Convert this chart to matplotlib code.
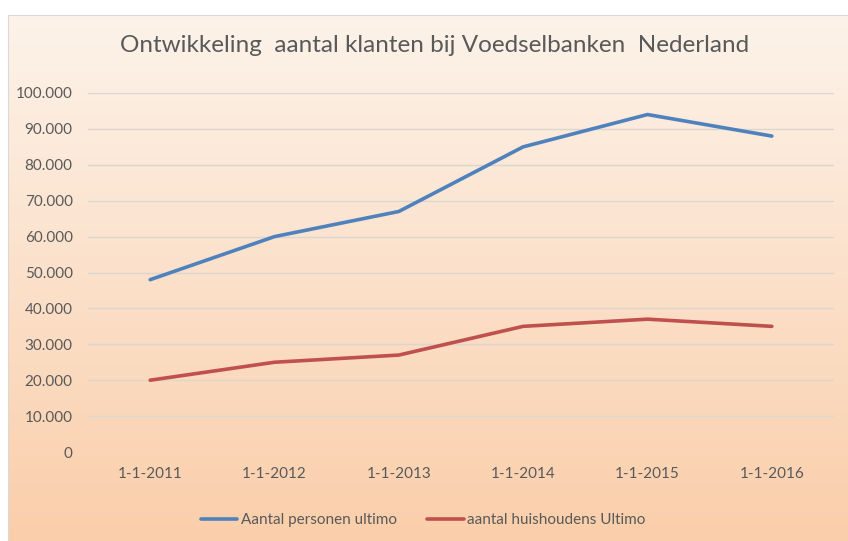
import numpy as np
import matplotlib
matplotlib.use("Agg")
import matplotlib.pyplot as plt
from matplotlib.ticker import FuncFormatter

categories = ["1-1-2011", "1-1-2012", "1-1-2013", "1-1-2014", "1-1-2015", "1-1-2016"]
personen = [48000, 60000, 67000, 85000, 94000, 88000]
huishoudens = [20000, 25000, 27000, 35000, 37000, 35000]

title = "Ontwikkeling  aantal klanten bij Voedselbanken  Nederland"
label_a = "Aantal personen ultimo"
label_b = "aantal huishoudens Ultimo"

plt.rcParams['font.family'] = ['Lato', 'DejaVu Sans']
text_color = "#595959"

W, H = 848, 541
fig = plt.figure(figsize=(W / 100, H / 100), dpi=100)
fig.patch.set_facecolor("white")

# gradient chart area
bg = fig.add_axes([8 / W, 0, 1 - 8 / W, (H - 15) / H])
top = np.array([253, 243, 234]) / 255
bottom = np.array([250, 206, 170]) / 255
t = np.linspace(0, 1, 256)[:, None]
grad = top[None, :] * (1 - t) + bottom[None, :] * t
bg.imshow(grad[:, None, :], aspect="auto", extent=[0, 1, 0, 1])
bg.set_xticks([])
bg.set_yticks([])
for s in bg.spines.values():
    s.set_color("#d9d9d9")
    s.set_linewidth(0.8)
bg.spines['right'].set_visible(False)
bg.spines['bottom'].set_visible(False)

ax = fig.add_axes([88 / W, 89 / H, (834 - 88) / W, (452 - 93) / H])
ax.patch.set_alpha(0)

x = np.arange(len(categories))
ax.plot(x, personen, color="#4F81BD", lw=2.6, solid_capstyle="round", label=label_a)
ax.plot(x, huishoudens, color="#C0504D", lw=2.6, solid_capstyle="round", label=label_b)

ax.set_xlim(-0.5, len(categories) - 0.5)
ax.set_ylim(0, 100000)
ax.set_yticks(range(0, 100001, 10000))
ax.yaxis.set_major_formatter(FuncFormatter(lambda v, p: f"{int(v):,}".replace(",", ".")))
ax.set_xticks(x)
ax.set_xticklabels(categories)
ax.tick_params(length=0, colors=text_color, labelsize=11)
ax.tick_params(axis="x", pad=11)
ax.tick_params(axis="y", pad=11)
ax.grid(axis="y", color="#dcd6d0", lw=1)
ax.set_axisbelow(True)
for s in ax.spines.values():
    s.set_visible(False)

fig.text(435 / W, 1 - 46 / H, title, ha="center", va="center", fontsize=17.5, color=text_color)

fig.legend(loc="center", bbox_to_anchor=(423 / W, 1 - 520 / H), ncol=2, frameon=False,
           fontsize=11, labelcolor=text_color, handlelength=2.4, handletextpad=0.2,
           columnspacing=2.0)

fig.savefig("out.png", dpi=100)
